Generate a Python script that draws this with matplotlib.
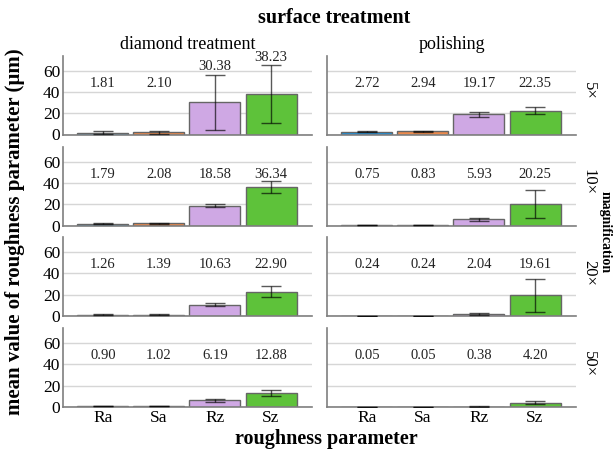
import numpy as np
import matplotlib
matplotlib.use("Agg")
import matplotlib.pyplot as plt

plt.rcParams['font.family'] = ['Liberation Serif', 'DejaVu Serif']

params = ['Ra', 'Sa', 'Rz', 'Sz']
treatments = ['diamond treatment', 'polishing']
mags = ['5×', '10×', '20×', '50×']

# mean values [magnification][treatment][parameter]
means = [
    [[1.81, 2.10, 30.38, 38.23], [2.72, 2.94, 19.17, 22.35]],
    [[1.79, 2.08, 18.58, 36.34], [0.75, 0.83, 5.93, 20.25]],
    [[1.26, 1.39, 10.63, 22.90], [0.24, 0.24, 2.04, 19.61]],
    [[0.90, 1.02, 6.19, 12.88], [0.05, 0.05, 0.38, 4.20]],
]
# error bar half-heights (estimated)
errs = [
    [[1.4, 1.5, 26.0, 27.0], [0.3, 0.3, 2.5, 3.2]],
    [[0.3, 0.3, 1.5, 5.3], [0.1, 0.1, 1.5, 13.3]],
    [[0.2, 0.2, 1.5, 5.5], [0.05, 0.05, 0.8, 15.5]],
    [[0.2, 0.2, 1.5, 3.0], [0.02, 0.02, 0.1, 1.8]],
]
colors = ['#2090d8', '#ec8a4c', '#cfa8e4', '#5ec23a']

W, H = 613, 450
fig = plt.figure(figsize=(W / 100, H / 100), dpi=100)

col_x = [(63, 312), (327, 576)]
row_y = [(56, 134.5), (147, 225.5), (237, 316), (328, 407)]

x = np.arange(len(params))
for r in range(4):
    for c in range(2):
        x0, x1 = col_x[c]
        y0, y1 = row_y[r]
        ax = fig.add_axes([x0 / W, (H - y1) / H, (x1 - x0) / W, (y1 - y0) / H])
        m = np.array(means[r][c])
        e = np.array(errs[r][c])
        ax.bar(x, m, width=0.91, color=colors, edgecolor='#666666', linewidth=1.0, zorder=2)
        ax.errorbar(x, m, yerr=e, fmt='none', ecolor='black', alpha=0.65,
                    elinewidth=1.0, capsize=7, capthick=1.0, zorder=3)
        for xi, mi, ei in zip(x, m, e):
            top = mi + ei
            if top > 44:
                ax.text(xi, top + 1.5, f'{mi:.2f}', ha='center', va='bottom', fontsize=10.5, color='#222222')
            else:
                ax.text(xi, 48, f'{mi:.2f}', ha='center', va='center', fontsize=10.5, color='#222222')
        ax.set_ylim(0, 74)
        ax.set_xlim(-0.71, 3.73)
        ax.set_yticks([0, 20, 40, 60])
        ax.grid(axis='y', color='#d6d6d6', linewidth=1.0, zorder=0)
        ax.set_axisbelow(True)
        for s in ['top', 'right']:
            ax.spines[s].set_visible(False)
        for s in ['left', 'bottom']:
            ax.spines[s].set_color('#7f7f7f')
            ax.spines[s].set_linewidth(1.2)
        ax.tick_params(length=0, labelsize=12.5, pad=2)
        ax.set_xticks(x)
        if r == 3:
            ax.set_xticklabels(params, fontsize=12.5)
        else:
            ax.set_xticklabels([])
        if c == 1:
            ax.set_yticklabels([])
            ax.text(1.02, 0.55, mags[r], transform=ax.transAxes, rotation=270,
                    ha='left', va='center', fontsize=12)
        if r == 0:
            ax.set_title(treatments[c], fontsize=13, pad=5)

fig.text(334 / W, 1 - 18 / H, 'surface treatment', ha='center', va='center',
         fontsize=14.5, fontweight='bold')
fig.text(326 / W, 1 - 439 / H, 'roughness parameter', ha='center', va='center',
         fontsize=14.5, fontweight='bold')
fig.text(15 / W, 1 - 232 / H, 'mean value of roughness parameter (µm)', ha='center', va='center',
         rotation=90, fontsize=15, fontweight='bold')
fig.text(612 / W, 1 - 232 / H, 'magnification', ha='right', va='center',
         rotation=270, fontsize=10, fontweight='bold')

fig.savefig('out.png', dpi=100)
